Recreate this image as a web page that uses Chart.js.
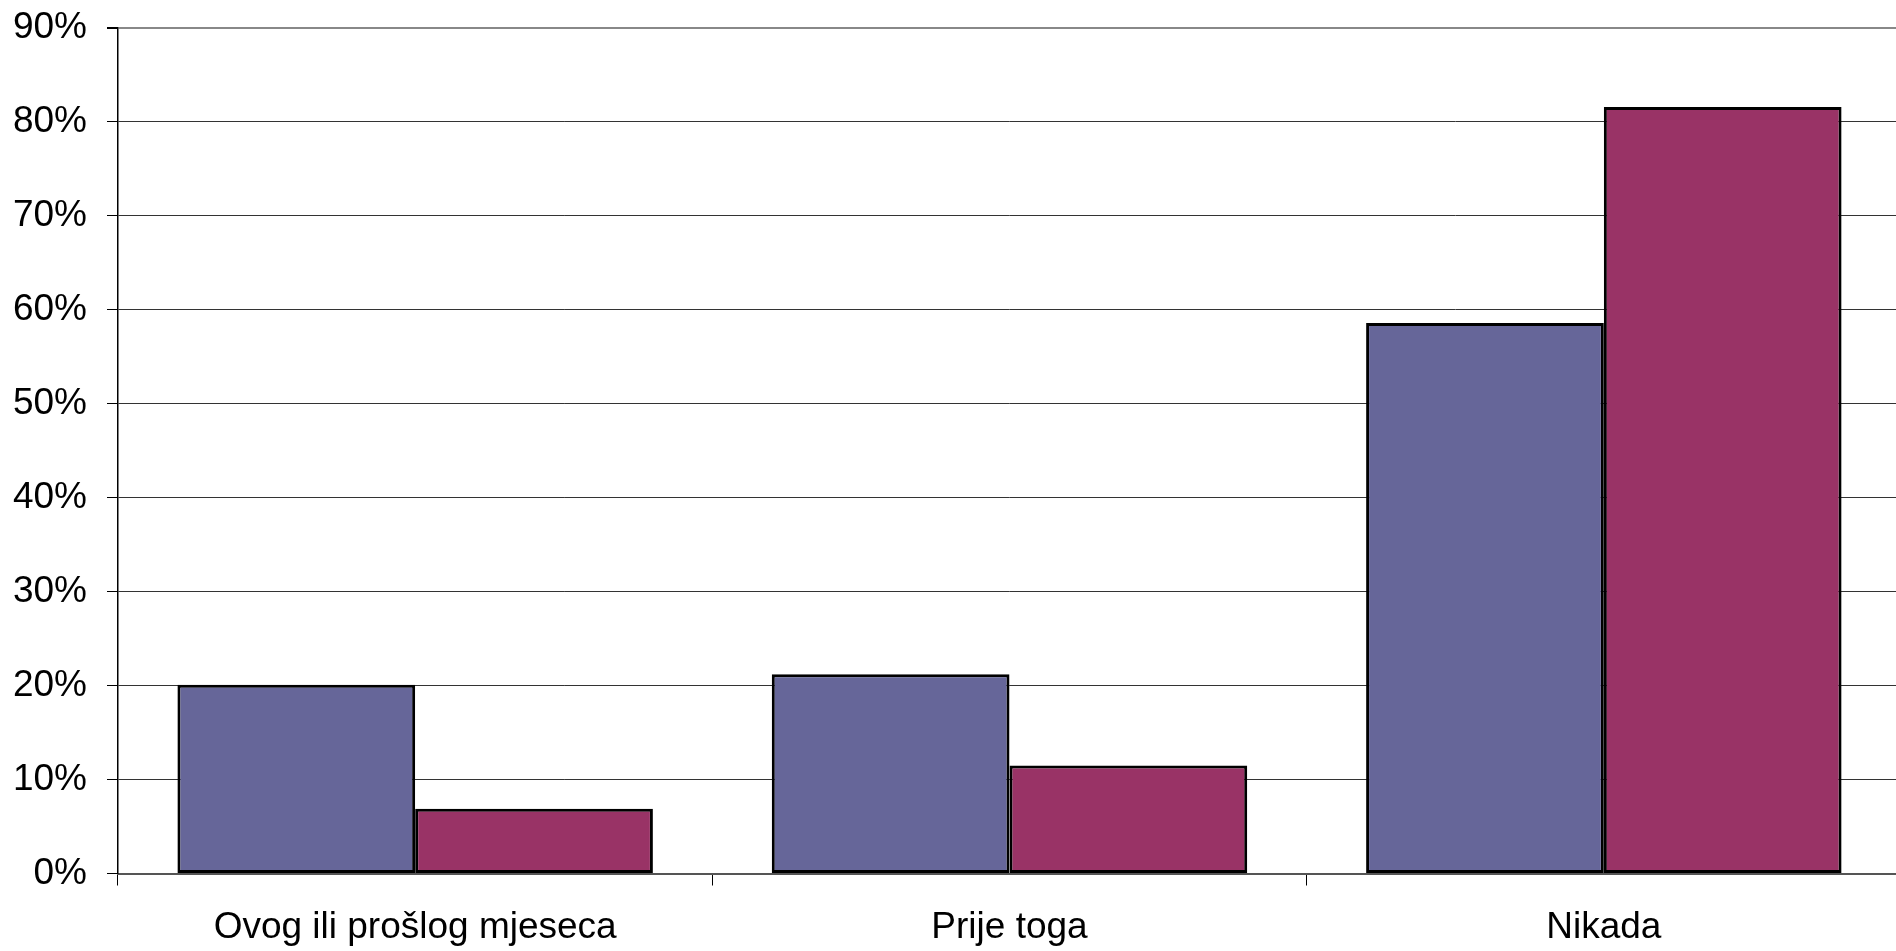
<!DOCTYPE html>
<html>
<head>
<meta charset="utf-8">
<script src="https://cdn.jsdelivr.net/npm/chart.js@4"></script>
<style>
    html, body { margin: 0; padding: 0; background: #fff; overflow: hidden; }
    #wrap { width: 1901px; height: 951px; }
</style>
</head>
<body>
<div id="wrap"><canvas id="barCanvas"></canvas></div>
<script>
// values (percent)
const categories = ['Ovog ili prošlog mjeseca', 'Prije toga', 'Nikada'];
const seriesA = [20.1, 21.2, 58.6];
const seriesB = [6.9, 11.5, 81.6];
const yTicks = [0, 10, 20, 30, 40, 50, 60, 70, 80, 90];

const FONT = { family: '"Liberation Sans", Arial, sans-serif', size: 37 };

function initBarChart() {
    const ctx = document.getElementById('barCanvas');
    if (!ctx) return;

    new Chart(ctx.getContext('2d'), {
        type: 'bar',
        data: {
            labels: categories,
            datasets: [
                { label: 'Serija 1', data: seriesA, backgroundColor: '#666699', borderColor: '#000', borderWidth: 3, borderSkipped: false },
                { label: 'Serija 2', data: seriesB, backgroundColor: '#993366', borderColor: '#000', borderWidth: 3, borderSkipped: false }
            ]
        },
        options: {
            responsive: true,
            maintainAspectRatio: false,
            animation: false,
            devicePixelRatio: 1,
            layout: { padding: { top: 28, right: 0, left: 0, bottom: 0 } },
            datasets: { bar: { categoryPercentage: 0.8, barPercentage: 1.0 } },
            scales: {
                x: {
                    grid: {
                        offset: true,
                        drawOnChartArea: false,
                        drawTicks: true,
                        tickLength: 12,
                        tickColor: '#000',
                        tickWidth: 1
                    },
                    border: { color: '#555', width: 2 },
                    ticks: { color: '#000', font: FONT, padding: 20, maxRotation: 0 },
                    afterFit: (scale) => {
                        scale.height = 77.5;
                        scale.paddingLeft = 0;
                        scale.paddingRight = 0;
                    }
                },
                y: {
                    min: 0,
                    max: 90,
                    afterBuildTicks: (scale) => { scale.ticks = yTicks.map(v => ({ value: v })); },
                    ticks: {
                        color: '#000',
                        font: FONT,
                        padding: 20,
                        callback: (v) => v + '%'
                    },
                    grid: {
                        color: (c) => c.tick && c.tick.value === 90 ? '#888' : '#333',
                        lineWidth: (c) => c.tick && c.tick.value === 90 ? 2 : 1,
                        tickLength: 11,
                        tickColor: '#000'
                    },
                    border: { color: '#000', width: 1.5 },
                    afterFit: (scale) => {
                        scale.width = 118;
                        scale.paddingTop = 0;
                        scale.paddingBottom = 0;
                    }
                }
            },
            plugins: {
                legend: { display: false },
                tooltip: { enabled: false }
            }
        }
    });
}

document.addEventListener('DOMContentLoaded', initBarChart);
</script>
</body>
</html>
